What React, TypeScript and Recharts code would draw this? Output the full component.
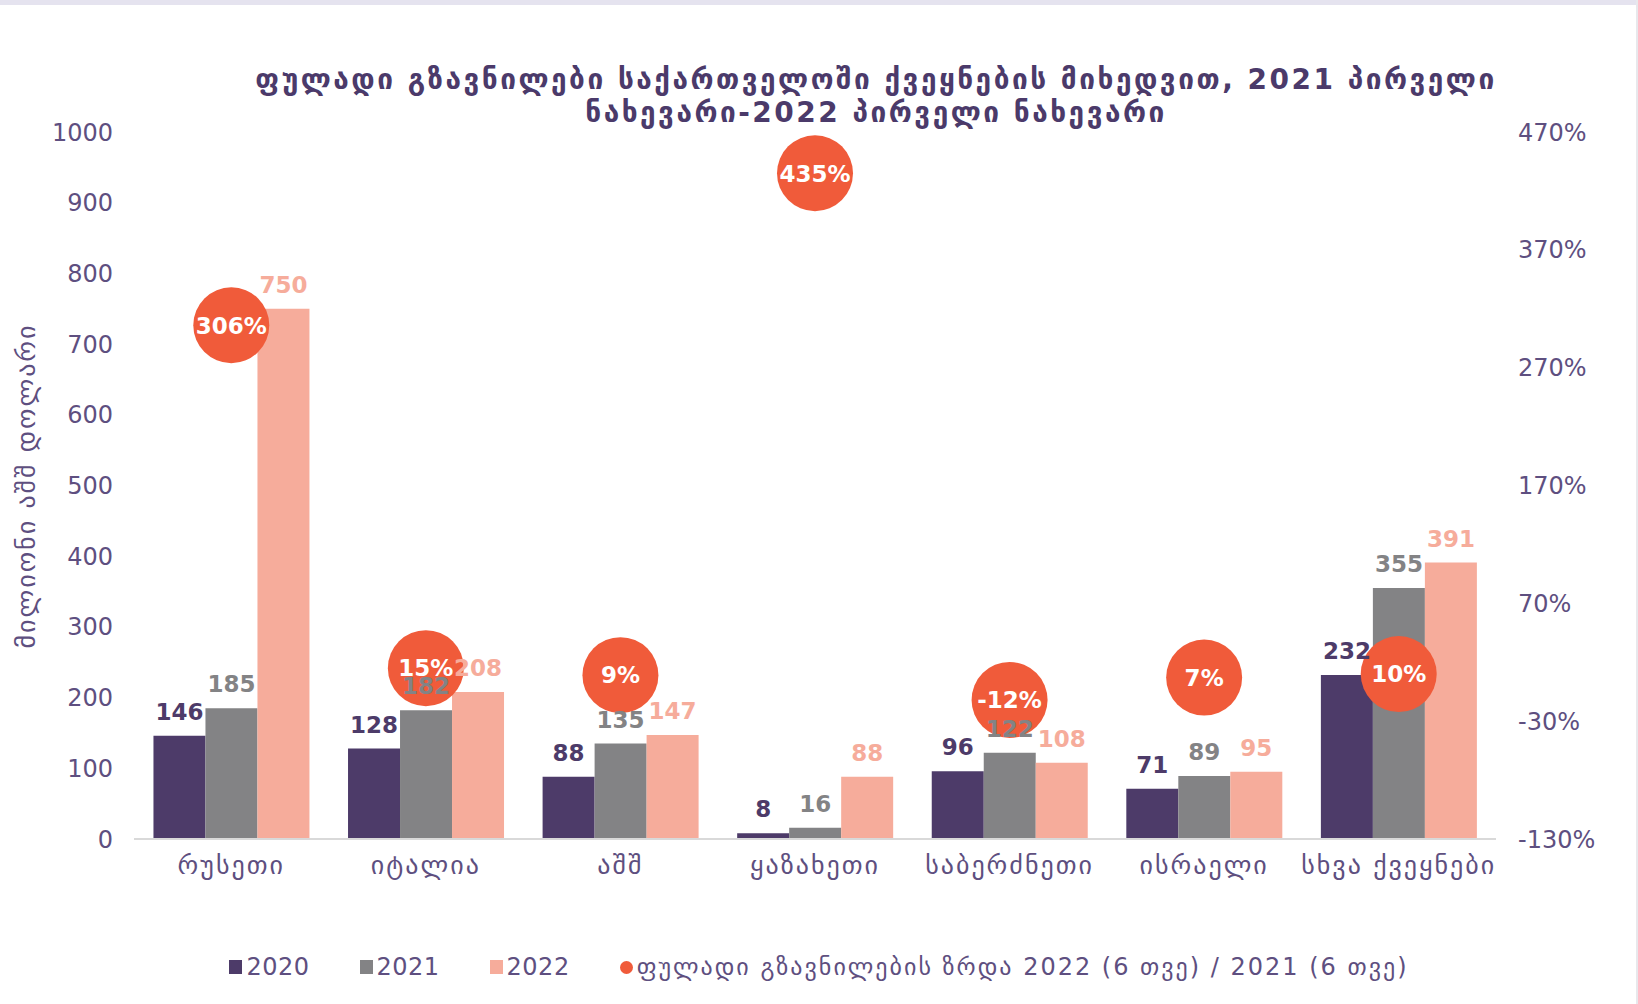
import React from "react";
import { ComposedChart, Bar, Line, XAxis, YAxis, LabelList } from "recharts";

// chart data
const categories = ["რუსეთი", "იტალია", "აშშ", "ყაზახეთი", "საბერძნეთი", "ისრაელი", "სხვა ქვეყნები"];
const values2020 = [146, 128, 88, 8, 96, 71, 232];
const values2021 = [185, 182, 135, 16, 122, 89, 355];
const values2022 = [750, 208, 147, 88, 108, 95, 391];
const growth = [306, 15, 9, 435, -12, 7, 10];
const leftTicks = [0, 100, 200, 300, 400, 500, 600, 700, 800, 900, 1000];
const rightTicks = [-130, -30, 70, 170, 270, 370, 470];

const titleLines = ["ფულადი გზავნილები საქართველოში ქვეყნების მიხედვით, 2021 პირველი", "ნახევარი-2022 პირველი ნახევარი"];
const yLabel = "მილიონი აშშ დოლარი";
const growthName = "ფულადი გზავნილების ზრდა 2022 (6 თვე) / 2021 (6 თვე)";

const C2020 = "#4D3B69";
const C2021 = "#838385";
const C2022 = "#F6AC9B";
const CDOT = "#F05B3A";
const TXT = "#5E4F80";
const FONT = "'DejaVu Sans', sans-serif";

const data = categories.map((name, i) => ({
  name,
  y2020: values2020[i],
  y2021: values2021[i],
  y2022: values2022[i],
  growth: growth[i],
}));

const GrowthDot = (props: any) => {
  const { cx, cy, value, index } = props;
  if (cx == null || cy == null) return null;
  return (
    <g key={`dot-${index}`}>
      <circle cx={cx} cy={cy} r={38} fill={CDOT} />
      <text x={cx} y={cy} dy="0.36em" textAnchor="middle" fill="#fff" fontSize={23} fontWeight="bold" fontFamily={FONT}>
        {value}%
      </text>
    </g>
  );
};

// georgian category labels are set a little wider than the default glyphs
const CategoryTick = (props: any) => {
  const { x, y, payload } = props;
  return (
    <text x={x} y={y} dy="0.71em" textAnchor="middle" fill={TXT} fontSize={26} fontFamily={FONT} letterSpacing={2}>
      {payload.value}
    </text>
  );
};

const legendItems = [
  { label: "2020", color: C2020, shape: "square" },
  { label: "2021", color: C2021, shape: "square" },
  { label: "2022", color: C2022, shape: "square" },
  { label: growthName, color: CDOT, shape: "circle" },
];

export default function App() {
  const tickStyle = { fill: TXT, fontSize: 24, fontFamily: FONT };
  const labelProps = { position: "top" as const, offset: 16, fontSize: 23, fontWeight: "bold", fontFamily: FONT };
  return (
    <div style={{ position: "absolute", left: 0, top: 0, width: 1638, height: 1004, background: "#fff", fontFamily: FONT, overflow: "hidden" }}>
      <div style={{ position: "absolute", left: 0, top: 0, width: 1638, height: 5, background: "#E5E3EF" }} />
      <div style={{ position: "absolute", right: 0, top: 0, width: 2, height: 1004, background: "#E8E8EC" }} />
      <div
        style={{
          position: "absolute",
          left: 176,
          width: 1400,
          top: 63,
          textAlign: "center",
          fontSize: 28,
          letterSpacing: 2.5,
          lineHeight: "33px",
          fontWeight: "bold",
          color: "#4B3A6A",
          whiteSpace: "nowrap",
        }}
      >
        {titleLines.map((l) => (
          <div key={l}>{l}</div>
        ))}
      </div>
      <div
        style={{
          position: "absolute",
          left: 26,
          top: 486,
          transform: "translate(-50%, -50%) rotate(-90deg)",
          whiteSpace: "nowrap",
          fontSize: 26,
          letterSpacing: 2,
          color: TXT,
        }}
      >
        {yLabel}
      </div>
      <ComposedChart
        width={1638}
        height={1004}
        data={data}
        margin={{ top: 132, right: 0, bottom: 125, left: 0 }}
        barCategoryGap="10%"
        barGap={0}
      >
        <XAxis
          dataKey="name"
          tickLine={false}
          axisLine={{ stroke: "#D9D9D9", strokeWidth: 2 }}
          tick={<CategoryTick />}
          tickMargin={11}
          height={40}
          interval={0}
        />
        <YAxis
          yAxisId="left"
          domain={[0, 1000]}
          ticks={leftTicks}
          axisLine={false}
          tickLine={false}
          tick={tickStyle}
          tickMargin={15}
          width={134}
        />
        <YAxis
          yAxisId="right"
          orientation="right"
          domain={[-130, 470]}
          ticks={rightTicks}
          tickFormatter={(v: number) => `${v}%`}
          axisLine={false}
          tickLine={false}
          tick={tickStyle}
          tickMargin={16}
          width={142}
        />
        <Bar yAxisId="left" dataKey="y2020" fill={C2020} isAnimationActive={false}>
          <LabelList dataKey="y2020" fill={C2020} {...labelProps} />
        </Bar>
        <Bar yAxisId="left" dataKey="y2021" fill={C2021} isAnimationActive={false}>
          <LabelList dataKey="y2021" fill={C2021} {...labelProps} />
        </Bar>
        <Bar yAxisId="left" dataKey="y2022" fill={C2022} isAnimationActive={false}>
          <LabelList dataKey="y2022" fill={C2022} {...labelProps} />
        </Bar>
        <Line
          yAxisId="right"
          dataKey="growth"
          stroke="none"
          dot={GrowthDot}
          activeDot={false}
          isAnimationActive={false}
        />
      </ComposedChart>
      <div
        style={{
          position: "absolute",
          left: 0,
          width: 1638,
          top: 952,
          display: "flex",
          justifyContent: "center",
          gap: 50,
          fontSize: 24,
          color: TXT,
          lineHeight: "30px",
        }}
      >
        {legendItems.map((it) => (
          <div key={it.label} style={{ display: "flex", alignItems: "center", gap: 4 }}>
            <span
              style={{
                display: "inline-block",
                width: 13,
                height: it.shape === "circle" ? 13 : 14,
                borderRadius: it.shape === "circle" ? "50%" : 0,
                background: it.color,
              }}
            />
            <span style={{ letterSpacing: it.shape === "circle" ? 2 : 0.5 }}>{it.label}</span>
          </div>
        ))}
      </div>
    </div>
  );
}
